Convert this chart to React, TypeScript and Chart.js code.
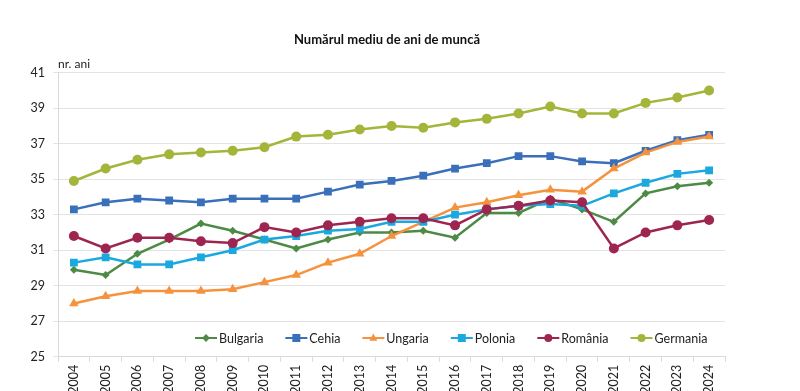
import React, { useEffect, useRef } from "react";
import { Chart, registerables } from "chart.js";

Chart.register(...registerables);

const years = ["2004", "2005", "2006", "2007", "2008", "2009", "2010", "2011", "2012", "2013", "2014", "2015", "2016", "2017", "2018", "2019", "2020", "2021", "2022", "2023", "2024"];
const yTicks = [25, 27, 29, 31, 33, 35, 37, 39, 41];

const bulgaria = [29.9, 29.6, 30.8, 31.6, 32.5, 32.1, 31.6, 31.1, 31.6, 32.0, 32.0, 32.1, 31.7, 33.1, 33.1, 33.9, 33.3, 32.6, 34.2, 34.6, 34.8];
const cehia = [33.3, 33.7, 33.9, 33.8, 33.7, 33.9, 33.9, 33.9, 34.3, 34.7, 34.9, 35.2, 35.6, 35.9, 36.3, 36.3, 36.0, 35.9, 36.6, 37.2, 37.5];
const ungaria = [28.0, 28.4, 28.7, 28.7, 28.7, 28.8, 29.2, 29.6, 30.3, 30.8, 31.8, 32.6, 33.4, 33.7, 34.1, 34.4, 34.3, 35.6, 36.5, 37.1, 37.4];
const polonia = [30.3, 30.6, 30.2, 30.2, 30.6, 31.0, 31.6, 31.8, 32.1, 32.2, 32.6, 32.6, 33.0, 33.3, 33.5, 33.6, 33.5, 34.2, 34.8, 35.3, 35.5];
const romania = [31.8, 31.1, 31.7, 31.7, 31.5, 31.4, 32.3, 32.0, 32.4, 32.6, 32.8, 32.8, 32.4, 33.3, 33.5, 33.8, 33.7, 31.1, 32.0, 32.4, 32.7];
const germania = [34.9, 35.6, 36.1, 36.4, 36.5, 36.6, 36.8, 37.4, 37.5, 37.8, 38.0, 37.9, 38.2, 38.4, 38.7, 39.1, 38.7, 38.7, 39.3, 39.6, 40.0];

const seriesNames = ["Bulgaria", "Cehia", "Ungaria", "Polonia", "România", "Germania"];
const seriesData = [bulgaria, cehia, ungaria, polonia, romania, germania];
const seriesColors = ["#4d8a45", "#3a6fba", "#f5923e", "#1aa8de", "#9e2550", "#a4b53a"];
const seriesPoints = ["rectRot", "rect", "triangle", "rect", "circle", "circle"];
const seriesRadius = [4, 5.5, 5.5, 5.5, 5, 5];
const legendRadius = [3, 4, 4, 4, 4, 4];

const TITLE = "Numărul mediu de ani de muncă";
const UNIT = "nr. ani";
const FONT = "Lato";

function drawMarker(ctx: CanvasRenderingContext2D, style: string, x: number, y: number, r: number, color: string) {
  ctx.fillStyle = color;
  ctx.beginPath();
  if (style === "circle") {
    ctx.arc(x, y, r, 0, Math.PI * 2);
  } else if (style === "rect") {
    ctx.rect(x - r, y - r, 2 * r, 2 * r);
  } else if (style === "rectRot") {
    ctx.moveTo(x, y - r * 1.3);
    ctx.lineTo(x + r * 1.3, y);
    ctx.lineTo(x, y + r * 1.3);
    ctx.lineTo(x - r * 1.3, y);
    ctx.closePath();
  } else if (style === "triangle") {
    ctx.moveTo(x, y - r * 1.1);
    ctx.lineTo(x + r, y + r * 0.7);
    ctx.lineTo(x - r, y + r * 0.7);
    ctx.closePath();
  }
  ctx.fill();
}

const overlayPlugin = {
  id: "overlay",
  afterDraw(chart: any) {
    const ctx: CanvasRenderingContext2D = chart.ctx;
    const area = chart.chartArea;
    ctx.save();
    ctx.fillStyle = "#111";
    ctx.textBaseline = "alphabetic";
    ctx.textAlign = "center";
    ctx.font = `bold 13px ${FONT}`;
    ctx.fillText(TITLE, 387, 44);
    ctx.textAlign = "left";
    ctx.font = `12px ${FONT}`;
    ctx.fillStyle = "#222";
    ctx.fillText(UNIT, area.left, 68);
    // legend
    let x = 195;
    const y = 338;
    ctx.textBaseline = "middle";
    seriesNames.forEach((name, i) => {
      ctx.strokeStyle = seriesColors[i];
      ctx.lineWidth = 2;
      ctx.beginPath();
      ctx.moveTo(x, y);
      ctx.lineTo(x + 22, y);
      ctx.stroke();
      drawMarker(ctx, seriesPoints[i], x + 11, y, legendRadius[i], seriesColors[i]);
      ctx.fillStyle = "#222";
      ctx.font = `12.5px ${FONT}`;
      ctx.fillText(name, x + 24, y + 1);
      x += 24 + ctx.measureText(name).width + 22;
    });
    ctx.restore();
  },
};

export default function App() {
  const ref = useRef<HTMLCanvasElement>(null);
  useEffect(() => {
    if (!ref.current) return;
    const chart = new Chart(ref.current, {
      type: "line",
      data: {
        labels: years,
        datasets: seriesNames.map((name, i) => ({
          label: name,
          data: seriesData[i],
          borderColor: seriesColors[i],
          backgroundColor: seriesColors[i],
          pointBackgroundColor: seriesColors[i],
          pointBorderColor: seriesColors[i],
          pointStyle: seriesPoints[i] as any,
          pointRadius: seriesRadius[i],
          pointBorderWidth: 0,
          borderWidth: 2.5,
          tension: 0,
          fill: false,
          order: seriesNames.length - i,
        })),
      },
      options: {
        responsive: false,
        animation: false,
        layout: { padding: { top: 72.7, right: 75, left: 0, bottom: 0 } },
        plugins: {
          legend: { display: false },
          title: { display: false },
          tooltip: { enabled: false },
        },
        scales: {
          x: {
            type: "category",
            offset: true,
            grid: {
              drawOnChartArea: false,
              drawTicks: true,
              tickLength: 5,
              color: "#d9d9d9",
              offset: true,
            },
            border: { color: "#d9d9d9", width: 1 },
            ticks: {
              minRotation: 90,
              maxRotation: 90,
              autoSkip: false,
              padding: 3,
              color: "#222",
              font: { family: FONT, size: 12.5 },
            },
            afterFit: (scale: any) => {
              scale.height = 34.3;
            },
          },
          y: {
            min: 25,
            max: 41,
            afterBuildTicks: (scale: any) => {
              scale.ticks = yTicks.map((v) => ({ value: v }));
            },
            grid: {
              color: "#e3e3e3",
              drawTicks: true,
              tickLength: 5,
            },
            border: { color: "#d9d9d9", width: 1 },
            ticks: {
              padding: 8,
              color: "#222",
              font: { family: FONT, size: 12.5 },
            },
            afterFit: (scale: any) => {
              scale.width = 58;
            },
          },
        },
      },
      plugins: [overlayPlugin],
    });
    return () => chart.destroy();
  }, []);
  return (
    <div style={{ position: "absolute", left: 0, top: 0, width: 800, height: 391, background: "#fff" }}>
      <canvas ref={ref} width={800} height={391} style={{ display: "block" }} />
    </div>
  );
}
